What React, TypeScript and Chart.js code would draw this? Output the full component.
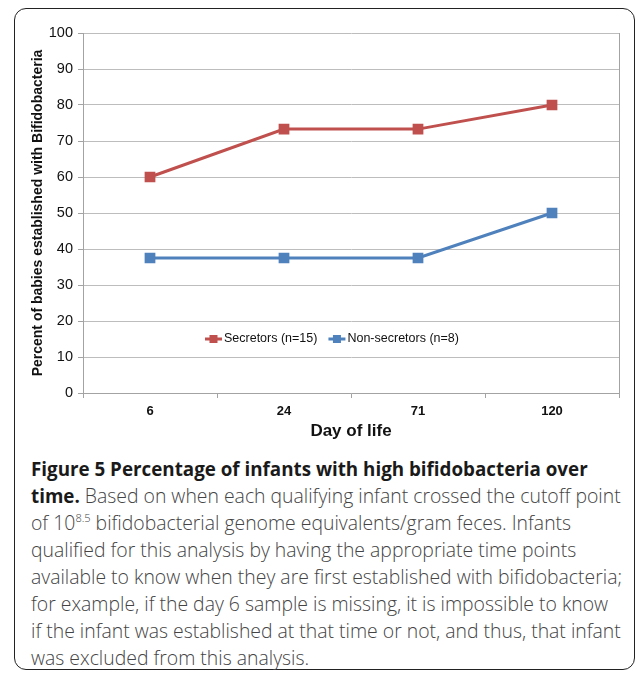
import React, { useEffect, useRef } from "react";
import { Chart, registerables } from "chart.js";

Chart.register(...registerables);

const categories = ["6", "24", "71", "120"];
const secretors = [60, 73.3, 73.3, 80];
const nonSecretors = [37.5, 37.5, 37.5, 50];
const seriesLabels = ["Secretors (n=15)", "Non-secretors (n=8)"];
const seriesColors = ["#C0504D", "#4F81BD"];
const yTitle = "Percent of babies established with Bifidobacteria";
const xTitle = "Day of life";

const insideLegend = {
  id: "insideLegend",
  afterDatasetsDraw(chart: any, _args: any, opts: any) {
    const { ctx, chartArea } = chart;
    const y = chart.scales.y.getPixelForValue(opts.value);
    ctx.save();
    ctx.font = opts.font;
    let x = chartArea.left + opts.startFrac * (chartArea.right - chartArea.left);
    const seg = 17;
    chart.data.datasets.forEach((ds: any) => {
      ctx.strokeStyle = ds.borderColor;
      ctx.lineWidth = 3;
      ctx.beginPath();
      ctx.moveTo(x, y);
      ctx.lineTo(x + seg, y);
      ctx.stroke();
      ctx.fillStyle = ds.borderColor;
      ctx.fillRect(x + seg / 2 - 4, y - 4, 8, 8);
      ctx.fillStyle = "#111";
      ctx.textBaseline = "middle";
      ctx.textAlign = "left";
      ctx.fillText(ds.label, x + seg + 2, y);
      x += seg + 2 + ctx.measureText(ds.label).width + 11;
    });
    ctx.restore();
  },
};

function ChartCanvas() {
  const ref = useRef<HTMLCanvasElement>(null);
  useEffect(() => {
    if (!ref.current) return;
    const grid = "#bdbdbd";
    const axis = "#a3a3a3";
    const chart = new Chart(ref.current, {
      type: "line",
      data: {
        labels: categories,
        datasets: [
          {
            label: seriesLabels[0],
            data: secretors,
            borderColor: seriesColors[0],
            backgroundColor: seriesColors[0],
            borderWidth: 3,
            pointStyle: "rect",
            pointRadius: 7.6,
            pointBorderWidth: 0,
            tension: 0,
          },
          {
            label: seriesLabels[1],
            data: nonSecretors,
            borderColor: seriesColors[1],
            backgroundColor: seriesColors[1],
            borderWidth: 3,
            pointStyle: "rect",
            pointRadius: 7.6,
            pointBorderWidth: 0,
            tension: 0,
          },
        ],
      },
      options: {
        responsive: false,
        animation: false,
        layout: { padding: { top: 33, right: 0, bottom: 0, left: 0 } },
        plugins: {
          legend: { display: false },
          tooltip: { enabled: false },
          insideLegend: {
            value: 15,
            startFrac: 0.2276,
            font: "12.5px 'Liberation Sans', Arial, sans-serif",
          },
        } as any,
        scales: {
          x: {
            offset: true,
            grid: {
              offset: true,
              drawOnChartArea: false,
              drawTicks: true,
              tickLength: 5,
              tickColor: axis,
              color: axis,
            },
            border: { display: true, color: axis, width: 1 },
            ticks: {
              padding: 6,
              color: "#111",
              font: { family: "'Liberation Sans', Arial, sans-serif", size: 13, weight: "bold" },
            },
            title: {
              display: true,
              text: xTitle,
              color: "#111",
              padding: { top: 0, bottom: 8 },
              font: { family: "'Liberation Sans', Arial, sans-serif", size: 17, weight: "bold" },
            },
            afterFit: (s: any) => {
              s.height = 57;
            },
          },
          y: {
            min: 0,
            max: 100,
            ticks: {
              stepSize: 10,
              padding: 5,
              color: "#111",
              font: { family: "'Liberation Sans', Arial, sans-serif", size: 14.5 },
            },
            grid: { color: grid, tickLength: 5, tickColor: axis, lineWidth: 1 },
            border: { display: true, color: axis, width: 1 },
            title: {
              display: true,
              text: yTitle,
              color: "#111",
              padding: { top: 30, bottom: 0 },
              font: { family: "'Liberation Sans', Arial, sans-serif", size: 14, weight: "bold" },
            },
            afterFit: (s: any) => {
              s.width = 83;
            },
          },
          y2: {
            position: "right",
            min: 0,
            max: 100,
            ticks: { display: false },
            grid: { drawOnChartArea: false, drawTicks: false },
            border: { display: true, color: axis, width: 1 },
            afterFit: (s: any) => {
              s.width = 18;
            },
          },
        },
      },
      plugins: [insideLegend],
    });
    return () => chart.destroy();
  }, []);
  return (
    <canvas
      ref={ref}
      width={637}
      height={450}
      style={{ position: "absolute", left: 0, top: 0, width: 637, height: 450 }}
    />
  );
}

const captionFont = "'Open Sans', 'Noto Sans', sans-serif";

export default function App() {
  const line: React.CSSProperties = { whiteSpace: "nowrap", height: 27, lineHeight: "27px" };
  const b: React.CSSProperties = { fontWeight: 700, color: "#1a1a1a", fontSize: 18.8 };
  return (
    <div style={{ position: "absolute", left: 0, top: 0, width: 637, height: 674, background: "#fff" }}>
      <div
        style={{
          position: "absolute",
          left: 14,
          top: 8,
          width: 621,
          height: 662,
          boxSizing: "border-box",
          border: "1.5px solid #222",
          borderRadius: 12,
        }}
      />
      <ChartCanvas />
      <div
        style={{
          position: "absolute",
          left: 31,
          top: 455,
          fontFamily: captionFont,
          fontSize: 19.4,
          fontWeight: 300,
          color: "#444",
        }}
      >
        <div style={line}>
          <span style={b}>Figure 5 Percentage of infants with high bifidobacteria over</span>
        </div>
        <div style={line}>
          <span style={b}>time.</span> Based on when each qualifying infant crossed the cutoff point
        </div>
        <div style={line}>
          of 10
          <span style={{ fontSize: 11, position: "relative", top: -8, lineHeight: 0 }}>8.5</span>{" "}
          bifidobacterial genome equivalents/gram feces. Infants
        </div>
        <div style={line}>qualified for this analysis by having the appropriate time points</div>
        <div style={line}>available to know when they are first established with bifidobacteria;</div>
        <div style={line}>for example, if the day 6 sample is missing, it is impossible to know</div>
        <div style={line}>if the infant was established at that time or not, and thus, that infant</div>
        <div style={line}>was excluded from this analysis.</div>
      </div>
    </div>
  );
}
